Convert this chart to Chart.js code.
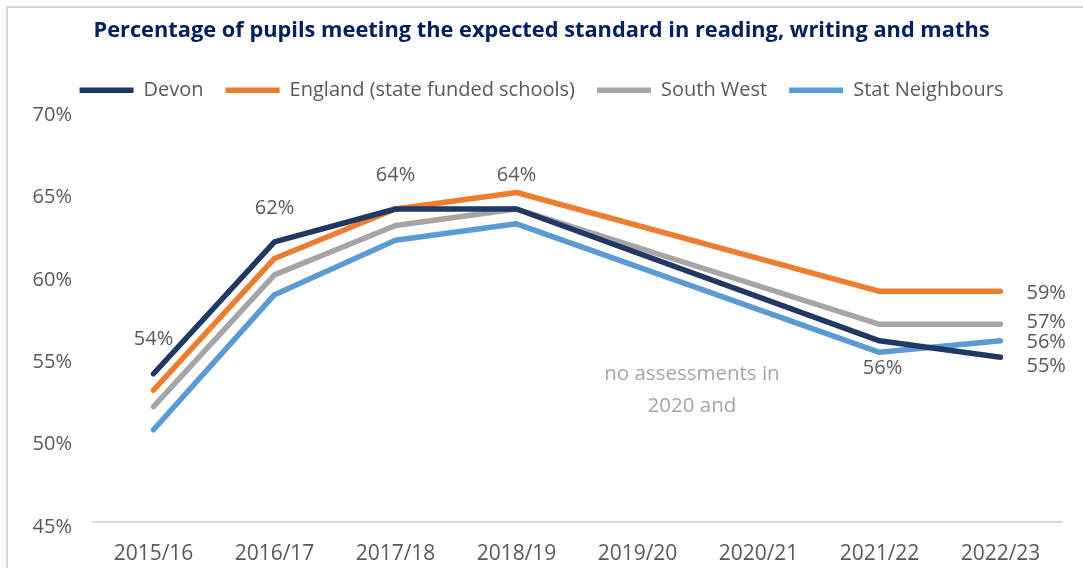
<!DOCTYPE html>
<html>
<head>
<meta charset="utf-8">
<script src="https://cdn.jsdelivr.net/npm/chart.js@4.4.1/dist/chart.umd.min.js"></script>
<style>
  html, body { margin: 0; padding: 0; background: #fff; overflow: hidden; }
  #frame { position: absolute; left: 6px; top: 6px; width: 1200px; height: 700px; border: 2px solid #d9d9d9; box-sizing: border-box; }
  #wrap { position: absolute; left: 0; top: 0; width: 1083px; height: 568px; }
</style>
</head>
<body>
<div id="frame"></div>
<div id="wrap"><canvas id="chart"></canvas></div>
<script>
// data
const years = ["2015/16", "2016/17", "2017/18", "2018/19", "2019/20", "2020/21", "2021/22", "2022/23"];
const devon = [54, 62, 64, 64, null, null, 56, 55];
const england = [53, 61, 64, 65, null, null, 59, 59];
const southWest = [52, 60, 63, 64, null, null, 57, 57];
const statNeighbours = [50.6, 58.8, 62.1, 63.1, null, null, 55.3, 56.0];
const yMin = 45;
const yMax = 70;
const yStep = 5;
const titleText = "Percentage of pupils meeting the expected standard in reading, writing and maths";
const noteLines = ["no assessments in", "2020 and"];

const FONT = '"Open Sans", "Noto Sans", sans-serif';
const GREY_TEXT = "#595959";

function lineSet(label, data, colour, spots)
{
    return {
        label: label,
        data: data,
        borderColor: colour,
        backgroundColor: colour,
        borderWidth: 5.5,
        borderCapStyle: "round",
        borderJoinStyle: "round",
        pointRadius: 0,
        pointHoverRadius: 0,
        spanGaps: true,
        tension: 0,
        valueLabels: spots
    };
}

// draws the % labels next to points, and the grey note
const pointLabels = {
    id: "pointLabels",
    afterDatasetsDraw(chart) {
        const ctx = chart.ctx;
        ctx.save();
        ctx.font = "20px " + FONT;
        ctx.fillStyle = GREY_TEXT;
        ctx.textBaseline = "middle";
        chart.data.datasets.forEach((ds, i) => {
            const meta = chart.getDatasetMeta(i);
            (ds.valueLabels || []).forEach(spot => {
                const pt = meta.data[spot.index];
                const text = Math.round(ds.data[spot.index]) + "%";
                if (spot.pos === "above") {
                    ctx.textAlign = "center";
                    ctx.fillText(text, pt.x, pt.y - 34);
                } else if (spot.pos === "below") {
                    ctx.textAlign = "center";
                    ctx.fillText(text, pt.x + 3, pt.y + 28);
                } else {
                    ctx.textAlign = "left";
                    ctx.fillText(text, pt.x + 26, pt.y + (spot.dy || 0));
                }
            });
        });

        const xs = chart.scales.x;
        const ys = chart.scales.y;
        ctx.font = "20.5px " + FONT;
        ctx.fillStyle = "#a6a6a6";
        ctx.textAlign = "center";
        ctx.fillText(noteLines[0], xs.getPixelForValue(4.45), ys.getPixelForValue(54));
        ctx.fillText(noteLines[1], xs.getPixelForValue(4.45), ys.getPixelForValue(52.05));
        ctx.restore();
    }
};

const datasets = [
    lineSet("Devon", devon, "#203864", [
        {index: 0, pos: "above"}, {index: 1, pos: "above"}, {index: 2, pos: "above"},
        {index: 3, pos: "above"}, {index: 6, pos: "below"}, {index: 7, pos: "right", dy: 9}
    ]),
    lineSet("England (state funded schools)", england, "#ED7D31", [{index: 7, pos: "right", dy: 2}]),
    lineSet("South West", southWest, "#A5A5A5", [{index: 7, pos: "right", dy: -2}]),
    lineSet("Stat Neighbours", statNeighbours, "#5B9BD5", [{index: 7, pos: "right", dy: 2}])
];

new Chart(document.getElementById("chart"), {
    type: "line",
    data: { labels: years, datasets: datasets },
    plugins: [pointLabels],
    options: {
        responsive: true,
        maintainAspectRatio: false,
        animation: false,
        events: [],
        layout: { padding: { left: 0, right: 0, top: 0, bottom: 3 } },
        plugins: {
            title: {
                display: true,
                text: titleText,
                color: "#002060",
                font: { family: FONT, size: 21.8, weight: "bold" },
                padding: { top: 18, bottom: 14 }
            },
            legend: {
                display: true,
                position: "top",
                labels: {
                    usePointStyle: true,
                    pointStyle: "line",
                    pointStyleWidth: 54,
                    color: GREY_TEXT,
                    font: { family: FONT, size: 20 },
                    padding: 22
                }
            },
            tooltip: { enabled: false }
        },
        scales: {
            x: {
                offset: true,
                grid: { display: false, drawTicks: false },
                border: { display: true, color: "#d9d9d9", width: 2 },
                ticks: { color: GREY_TEXT, font: { family: FONT, size: 21 }, padding: 19, maxRotation: 0 },
                afterFit: scale => { scale.height = 43; }
            },
            y: {
                min: yMin,
                max: yMax,
                grid: { display: false, drawTicks: false },
                border: { display: false },
                ticks: {
                    stepSize: yStep,
                    color: GREY_TEXT,
                    font: { family: FONT, size: 20 },
                    padding: 21,
                    labelOffset: 5,
                    callback: v => v + "%"
                },
                afterFit: scale => { scale.width = 93; }
            },
            // empty right-hand strip so the labels at 2022/23 have room
            rightStrip: {
                type: "linear",
                position: "right",
                display: true,
                grid: { display: false, drawTicks: false },
                border: { display: false },
                ticks: { display: false },
                afterFit: scale => { scale.width = 22; }
            }
        }
    }
});
</script>
</body>
</html>
